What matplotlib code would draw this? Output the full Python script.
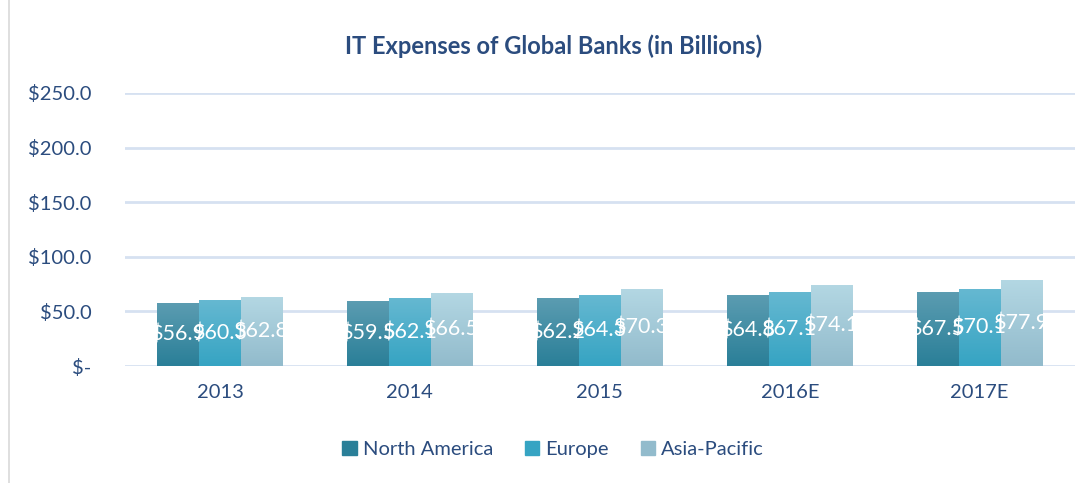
import matplotlib.pyplot as plt
import numpy as np
from matplotlib.colors import LinearSegmentedColormap
from matplotlib.patches import Rectangle
from matplotlib.lines import Line2D

years = ['2013', '2014', '2015', '2016E', '2017E']
north_america = [56.9, 59.5, 62.2, 64.8, 67.5]
europe = [60.3, 62.1, 64.3, 67.1, 70.1]
asia_pacific = [62.8, 66.5, 70.3, 74.1, 77.9]

series = [
    ('North America', north_america, ('#5B9CB1', '#2A7F98')),
    ('Europe', europe, ('#65B8D1', '#36A4C3')),
    ('Asia-Pacific', asia_pacific, ('#B3D7E3', '#92BBCC')),
]

plt.rcParams['font.family'] = ['Lato', 'DejaVu Sans']
text_color = '#2B4C7E'

fig = plt.figure(figsize=(10.91, 4.83), dpi=100)
ax = fig.add_axes([0.1146, 0.2422, 0.8704, 0.5653])

x = np.arange(len(years))
w = 0.22
for i, (name, vals, (top_c, bot_c)) in enumerate(series):
    bars = ax.bar(x + (i - 1) * w, vals, w, color=bot_c, zorder=2)
    cmap = LinearSegmentedColormap.from_list(name, [bot_c, top_c])
    for b, v in zip(bars, vals):
        bx, bw, bh = b.get_x(), b.get_width(), b.get_height()
        b.set_alpha(0)
        ax.imshow(np.linspace(0, 1, 64).reshape(-1, 1), cmap=cmap, origin='lower',
                  extent=(bx, bx + bw, 0, bh), aspect='auto', zorder=3)
        ax.text(bx + bw / 2, bh / 2, f'${v:.1f}', color='white', fontsize=15.5,
                ha='center', va='center', zorder=4 + i)

ax.set_xlim(-0.5, len(years) - 0.5)
ax.set_ylim(0, 250)
ax.set_yticks([0, 50, 100, 150, 200, 250])
ax.set_yticklabels(['$-', '$50.0', '$100.0', '$150.0', '$200.0', '$250.0'])
ax.set_xticks(x)
ax.set_xticklabels(years)
ax.tick_params(length=0, labelsize=14.5, labelcolor=text_color)
ax.tick_params(axis='y', pad=24)
ax.tick_params(axis='x', pad=13)
ax.grid(axis='y', color='#D6E1F1', linewidth=2, zorder=0)
for s in ax.spines.values():
    s.set_visible(False)

fig.text(0.507, 0.905, 'IT Expenses of Global Banks (in Billions)', ha='center', va='center',
         fontsize=17, fontweight='bold', color=text_color)

handles = [Rectangle((0, 0), 1, 1, color=c[1]) for _, _, c in series]
fig.legend(handles, [s[0] for s in series], loc='center', bbox_to_anchor=(0.507, 0.07),
           ncol=3, frameon=False, fontsize=14.5, labelcolor=text_color,
           handlelength=0.7, handleheight=0.7, handletextpad=0.3, columnspacing=1.6)

fig.add_artist(Line2D([0.008, 0.008], [0.0, 1.0], color='#D9D9D9', linewidth=1.2))

fig.savefig('out.png', dpi=100)
